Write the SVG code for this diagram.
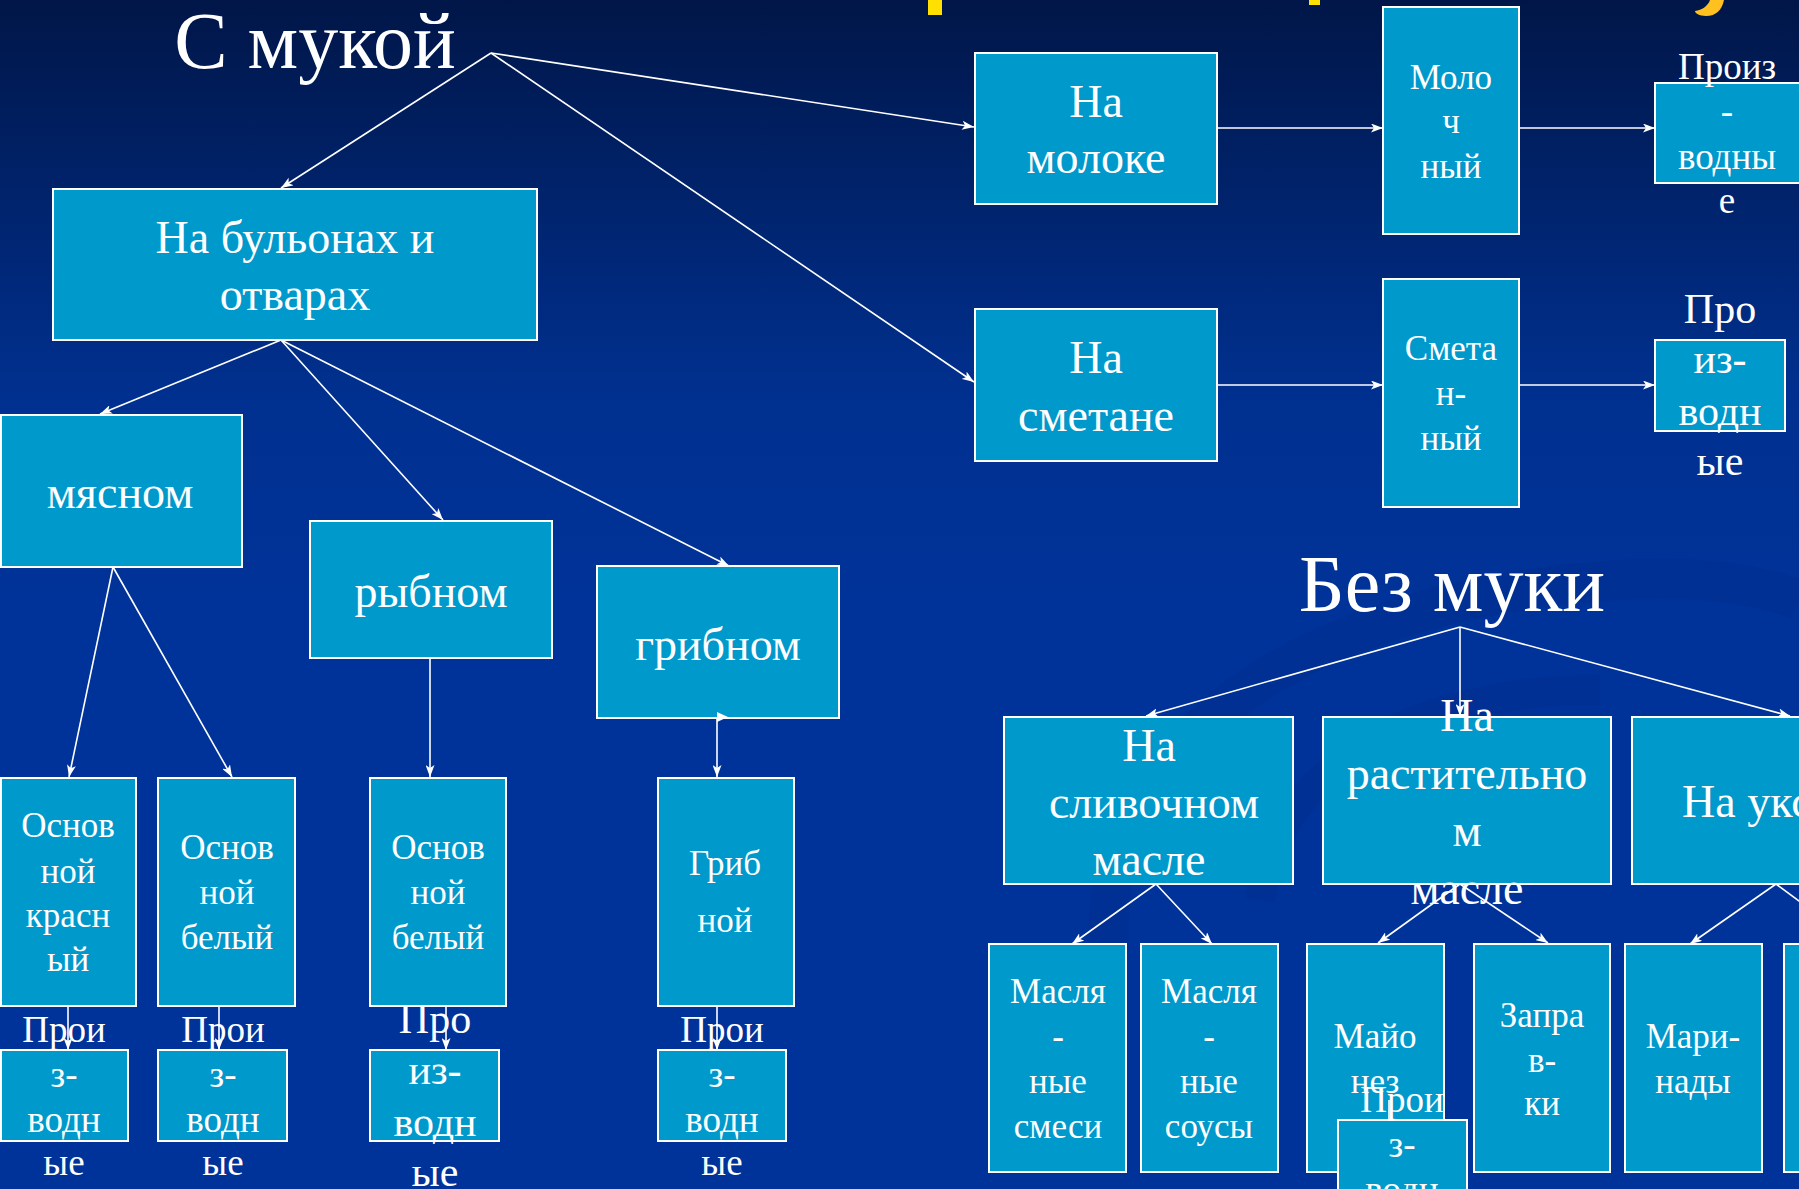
<svg xmlns="http://www.w3.org/2000/svg" width="1799" height="1189" viewBox="0 0 1799 1189">
<defs>
<linearGradient id="bg" x1="0" y1="0" x2="0" y2="1189" gradientUnits="userSpaceOnUse">
<stop offset="0" stop-color="#001648"/>
<stop offset="0.33" stop-color="#00308f"/>
<stop offset="0.5" stop-color="#003399"/>
<stop offset="1" stop-color="#003399"/>
</linearGradient>
<marker id="ah" viewBox="0 0 12 9" refX="12" refY="4.5" markerWidth="12" markerHeight="9" markerUnits="userSpaceOnUse" orient="auto">
<path d="M0,0 L12,4.5 L0,9 L3,4.5 Z" fill="#ffffff"/>
</marker>
<style>
.box{fill:#0099cc;stroke:#ffffff;stroke-width:2}
.t{font-family:"Liberation Serif","DejaVu Serif",serif;fill:#ffffff;text-anchor:middle}
.h{font-size:80px}
.l{font-size:46px}
.m{font-size:35px}
.p{font-size:37px}
.q{font-size:42px}
.conn line{stroke:#ffffff;stroke-width:1.6;marker-end:url(#ah)}
.swirl{fill:none;stroke:#002c8a;opacity:0.3}
</style>
</defs>
<rect x="0" y="0" width="1799" height="1189" fill="url(#bg)"/>
<g id="decor">
<path class="swirl" stroke-width="40" d="M1110,960 C1090,760 1280,600 1620,580 C1700,575 1760,585 1799,600"/>
<path class="swirl" stroke-width="30" d="M1260,900 C1280,760 1420,690 1600,690"/>
<rect x="928" y="0" width="14" height="15" fill="#ffe000"/>
<rect x="1309" y="0" width="11" height="5" fill="#ffe000"/>
<path d="M1710,0 L1724,0 C1722,10 1716,16 1706,16 C1699,16 1695,13 1695,11 C1702,10 1708,6 1710,0 Z" fill="#ffc020"/>
</g>
<g id="title-s-mukoy"><text class="t h" x="315" y="68">С мукой</text></g>
<g id="title-bez-muki"><text class="t h" x="1452" y="611">Без муки</text></g>

<g id="n-bulon"><rect class="box" x="53" y="189" width="484" height="151"/>
<text class="t l"><tspan x="295" y="253">На бульонах и</tspan><tspan x="295" y="310">отварах</tspan></text></g>
<g id="n-moloko"><rect class="box" x="975" y="53" width="242" height="151"/>
<text class="t l"><tspan x="1096" y="117">На</tspan><tspan x="1096" y="173">молоке</tspan></text></g>
<g id="n-molochny"><rect class="box" x="1383" y="7" width="136" height="227"/>
<text class="t m"><tspan x="1451" y="89">Моло</tspan><tspan x="1451" y="133">ч</tspan><tspan x="1451" y="178">ный</tspan></text></g>
<g id="n-proizv-1"><rect class="box" x="1655" y="83" width="170" height="100"/>
<text class="t p"><tspan x="1727" y="79">Произ</tspan><tspan x="1727" y="124">-</tspan><tspan x="1727" y="169">водны</tspan><tspan x="1727" y="213">е</tspan></text></g>
<g id="n-smetane"><rect class="box" x="975" y="309" width="242" height="152"/>
<text class="t l"><tspan x="1096" y="373">На</tspan><tspan x="1096" y="431">сметане</tspan></text></g>
<g id="n-smetanny"><rect class="box" x="1383" y="279" width="136" height="228"/>
<text class="t m"><tspan x="1451" y="360">Смета</tspan><tspan x="1451" y="405">н-</tspan><tspan x="1451" y="450">ный</tspan></text></g>
<g id="n-proizv-2"><rect class="box" x="1655" y="340" width="130" height="91"/>
<text class="t q"><tspan x="1720" y="323">Про</tspan><tspan x="1720" y="373">из-</tspan><tspan x="1720" y="425">водн</tspan><tspan x="1720" y="475">ые</tspan></text></g>

<g id="n-myasnom"><rect class="box" x="1" y="415" width="241" height="152"/>
<text class="t l" x="120" y="508">мясном</text></g>
<g id="n-rybnom"><rect class="box" x="310" y="521" width="242" height="137"/>
<text class="t l" x="431" y="607">рыбном</text></g>
<g id="n-gribnom"><rect class="box" x="597" y="566" width="242" height="152"/>
<text class="t l" x="718" y="660">грибном</text></g>

<g id="n-osn-krasny"><rect class="box" x="1" y="778" width="135" height="228"/>
<text class="t m"><tspan x="68" y="837">Основ</tspan><tspan x="68" y="883">ной</tspan><tspan x="68" y="927">красн</tspan><tspan x="68" y="971">ый</tspan></text></g>
<g id="n-osn-bely-1"><rect class="box" x="158" y="778" width="137" height="228"/>
<text class="t m"><tspan x="227" y="859">Основ</tspan><tspan x="227" y="904">ной</tspan><tspan x="227" y="949">белый</tspan></text></g>
<g id="n-osn-bely-2"><rect class="box" x="370" y="778" width="136" height="228"/>
<text class="t m"><tspan x="438" y="859">Основ</tspan><tspan x="438" y="904">ной</tspan><tspan x="438" y="949">белый</tspan></text></g>
<g id="n-gribnoy"><rect class="box" x="658" y="778" width="136" height="228"/>
<text class="t m"><tspan x="725" y="875">Гриб</tspan><tspan x="725" y="932">ной</tspan></text></g>

<g id="n-proizv-3"><rect class="box" x="1" y="1050" width="127" height="91"/>
<text class="t p"><tspan x="64" y="1042">Прои</tspan><tspan x="64" y="1087">з-</tspan><tspan x="64" y="1132">водн</tspan><tspan x="64" y="1175">ые</tspan></text></g>
<g id="n-proizv-4"><rect class="box" x="158" y="1050" width="129" height="91"/>
<text class="t p"><tspan x="223" y="1042">Прои</tspan><tspan x="223" y="1087">з-</tspan><tspan x="223" y="1132">водн</tspan><tspan x="223" y="1175">ые</tspan></text></g>
<g id="n-proizv-5"><rect class="box" x="370" y="1050" width="129" height="91"/>
<text class="t q"><tspan x="435" y="1033">Про</tspan><tspan x="435" y="1084">из-</tspan><tspan x="435" y="1136">водн</tspan><tspan x="435" y="1186">ые</tspan></text></g>
<g id="n-proizv-6"><rect class="box" x="658" y="1050" width="128" height="91"/>
<text class="t p"><tspan x="722" y="1042">Прои</tspan><tspan x="722" y="1087">з-</tspan><tspan x="722" y="1132">водн</tspan><tspan x="722" y="1175">ые</tspan></text></g>

<g id="n-slivoch"><rect class="box" x="1004" y="717" width="289" height="167"/>
<text class="t l"><tspan x="1149" y="761">На</tspan><tspan x="1154" y="818">сливочном</tspan><tspan x="1149" y="875">масле</tspan></text></g>
<g id="n-rastit"><rect class="box" x="1323" y="717" width="288" height="167"/>
<text class="t l"><tspan x="1467" y="731">На</tspan><tspan x="1467" y="789">растительно</tspan><tspan x="1467" y="846">м</tspan><tspan x="1467" y="904">масле</tspan></text></g>
<g id="n-uksus"><rect class="box" x="1632" y="717" width="220" height="167"/>
<text class="t l" style="text-anchor:start" x="1682" y="817">На уксусе</text></g>

<g id="n-masl-smesi"><rect class="box" x="989" y="944" width="137" height="228"/>
<text class="t m"><tspan x="1058" y="1003">Масля</tspan><tspan x="1058" y="1048">-</tspan><tspan x="1058" y="1093">ные</tspan><tspan x="1058" y="1138">смеси</tspan></text></g>
<g id="n-masl-sousy"><rect class="box" x="1141" y="944" width="137" height="228"/>
<text class="t m"><tspan x="1209" y="1003">Масля</tspan><tspan x="1209" y="1048">-</tspan><tspan x="1209" y="1093">ные</tspan><tspan x="1209" y="1138">соусы</tspan></text></g>
<g id="n-mayonez"><rect class="box" x="1307" y="944" width="137" height="228"/>
<text class="t m"><tspan x="1375" y="1048">Майо</tspan><tspan x="1375" y="1093">нез</tspan></text></g>
<g id="n-zaprav"><rect class="box" x="1474" y="944" width="136" height="228"/>
<text class="t m"><tspan x="1542" y="1027">Запра</tspan><tspan x="1542" y="1072">в-</tspan><tspan x="1542" y="1115">ки</tspan></text></g>
<g id="n-marinady"><rect class="box" x="1625" y="944" width="137" height="228"/>
<text class="t m"><tspan x="1693" y="1048">Мари-</tspan><tspan x="1693" y="1093">нады</tspan></text></g>
<g id="n-extra"><rect class="box" x="1784" y="944" width="60" height="228"/></g>
<line x1="1389" y1="1100" x2="1389" y2="1120" stroke="#ffffff" stroke-width="1.6"/>
<g id="n-proizv-7"><rect class="box" x="1338" y="1120" width="129" height="100"/>
<text class="t p"><tspan x="1402" y="1112">Прои</tspan><tspan x="1402" y="1157">з-</tspan><tspan x="1402" y="1202">водн</tspan></text></g>

<g id="connectors" class="conn">
<line x1="491" y1="53" x2="281" y2="188"/>
<line x1="491" y1="53" x2="974" y2="127"/>
<line x1="491" y1="53" x2="974" y2="382"/>
<line x1="1217" y1="128" x2="1383" y2="128"/>
<line x1="1519" y1="128" x2="1655" y2="128"/>
<line x1="1217" y1="385" x2="1383" y2="385"/>
<line x1="1519" y1="385" x2="1655" y2="385"/>
<line x1="281" y1="340" x2="100" y2="414"/>
<line x1="281" y1="340" x2="443" y2="520"/>
<line x1="281" y1="340" x2="729" y2="566"/>
<line x1="113" y1="567" x2="69" y2="777"/>
<line x1="113" y1="567" x2="232" y2="777"/>
<line x1="430" y1="658" x2="430" y2="777"/>
<line x1="717" y1="718" x2="717" y2="777"/>
<line x1="68" y1="1006" x2="68" y2="1050"/>
<line x1="219" y1="1006" x2="219" y2="1050"/>
<line x1="446" y1="1006" x2="446" y2="1050"/>
<line x1="717" y1="1006" x2="717" y2="1050"/>
<line x1="1460" y1="627" x2="1146" y2="716"/>
<line x1="1460" y1="627" x2="1460" y2="716"/>
<line x1="1460" y1="627" x2="1790" y2="716"/>
<line x1="1156" y1="884" x2="1072" y2="944"/>
<line x1="1156" y1="884" x2="1212" y2="944"/>
<line x1="1460" y1="884" x2="1378" y2="943"/>
<line x1="1460" y1="884" x2="1548" y2="943"/>
<line x1="1776" y1="884" x2="1690" y2="944"/>
<line x1="1776" y1="884" x2="1857" y2="944"/>
<path d="M717,712 L728,717 L717,722 Z" fill="#ffffff"/>
</g>
</svg>
